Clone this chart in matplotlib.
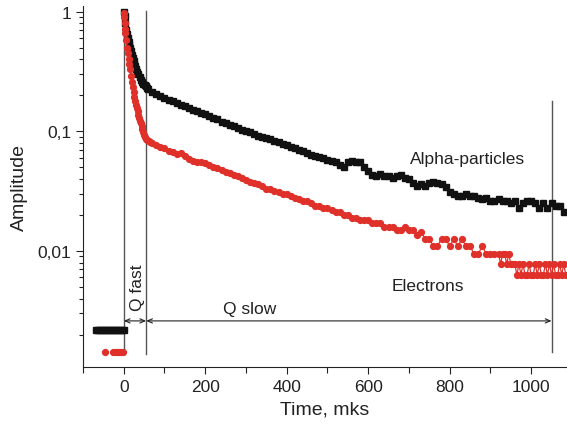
import matplotlib
matplotlib.use("Agg")
import matplotlib.pyplot as plt
from matplotlib.ticker import FixedLocator, NullFormatter, FixedFormatter

plt.rcParams['font.family'] = ['Liberation Sans', 'DejaVu Sans']

# ---------------- data ----------------
# pre-trigger baselines
alpha_pre_t = [-69, -64, -59, -54, -49, -44, -39, -34, -29, -24, -19, -14, -9, -4, 0]
alpha_pre_a = [0.00217] * 15
elec_pre_t = [-47, -27, -22, -17, -12, -7, -3]
elec_pre_a = [0.00142] * 7

# alpha-particles (black)
alpha_t = [0, 2, 4, 6, 8, 10, 12, 14, 16, 18, 20, 22, 24, 26, 28, 30, 33, 36, 39, 42, 45, 48, 51, 54, 57, 60,
           70, 80, 90, 100, 110, 120, 130, 140, 150, 160, 170, 180, 190, 200, 210, 220, 230, 240, 250,
           260, 270, 280, 290, 300, 310, 320, 330, 340, 350, 360, 370, 380, 390, 400, 410, 420, 430,
           440, 450, 460, 470, 480, 490, 500, 510, 520, 530, 540, 550, 560, 570, 580, 590, 600, 610,
           620, 630, 640, 650, 660, 670, 680, 690, 700, 710, 720, 730, 740, 750, 760, 770, 780, 790,
           800, 810, 820, 830, 840, 850, 860, 870, 880, 890, 900, 910, 920, 930, 940, 950, 960, 970,
           980, 990, 1000, 1010, 1020, 1030, 1040, 1050, 1060, 1070, 1080]
alpha_a = [1.0, 0.92, 0.80, 0.71, 0.65, 0.60, 0.56, 0.53, 0.50, 0.47, 0.44, 0.41, 0.39, 0.37, 0.35, 0.335,
           0.315, 0.30, 0.285, 0.27, 0.26, 0.25, 0.245, 0.24, 0.232, 0.226,
           0.215, 0.205, 0.196, 0.19, 0.183, 0.178, 0.172, 0.166, 0.162, 0.156, 0.15, 0.147, 0.142,
           0.139, 0.134, 0.13, 0.127, 0.121, 0.118, 0.114, 0.111, 0.106, 0.103, 0.101, 0.099, 0.095,
           0.092, 0.09, 0.088, 0.086, 0.083, 0.081, 0.078, 0.077, 0.074, 0.072, 0.07, 0.068, 0.066,
           0.064, 0.062, 0.061, 0.060, 0.058, 0.057, 0.055, 0.052, 0.050, 0.055, 0.057, 0.056, 0.055,
           0.050, 0.047, 0.043, 0.042, 0.044, 0.042, 0.042, 0.041, 0.042, 0.043, 0.041, 0.040, 0.037,
           0.035, 0.036, 0.035, 0.037, 0.038, 0.037, 0.036, 0.034, 0.031, 0.030, 0.029, 0.029, 0.030,
           0.029, 0.029, 0.028, 0.027, 0.028, 0.026, 0.026, 0.027, 0.026, 0.026, 0.025, 0.026, 0.023,
           0.025, 0.026, 0.026, 0.025, 0.023, 0.025, 0.023, 0.025, 0.024, 0.024, 0.021]

# electrons (red): fast part, slow part, quantised tail
elec_fast_t = [0, 1, 2, 3, 4, 6, 8, 10, 12, 14, 16, 18, 20, 22, 24, 26, 28, 30, 32, 34, 36, 38, 40, 42,
               44, 46, 48, 50, 52, 55, 58, 61, 64]
elec_fast_a = [0.97, 0.9, 0.8, 0.72, 0.66, 0.58, 0.50, 0.45, 0.40, 0.37, 0.33, 0.29, 0.26, 0.235, 0.215,
               0.195, 0.18, 0.167, 0.158, 0.148, 0.138, 0.13, 0.123, 0.117, 0.111, 0.105, 0.099, 0.094,
               0.090, 0.087, 0.085, 0.083, 0.082]
elec_slow_t = [70, 80, 90, 100, 110, 120, 130, 140, 150, 160, 170,
               180, 190, 200, 210, 220, 230, 240, 250, 260, 270,
               280, 290, 300, 310, 320, 330, 340, 350, 360, 370,
               380, 390, 400, 410, 420, 430, 440, 450, 460, 470,
               480, 490, 500, 510, 520, 530, 540, 550, 560, 570,
               580, 590, 600, 610, 620, 630, 640, 650, 660, 670,
               680, 690, 700, 710, 720, 730, 740, 750, 760, 770,
               780, 790, 800, 810, 820, 830, 840, 850, 860, 870,
               880, 890, 900, 910, 920]
elec_slow_a = [0.080, 0.077, 0.074, 0.072, 0.069, 0.067, 0.065, 0.066, 0.062, 0.059, 0.057,
               0.056, 0.055, 0.054, 0.052, 0.050, 0.049, 0.048, 0.046, 0.045, 0.043,
               0.042, 0.041, 0.039, 0.038, 0.037, 0.036, 0.035, 0.033, 0.033, 0.032,
               0.031, 0.030, 0.030, 0.029, 0.028, 0.027, 0.026, 0.026, 0.025, 0.024,
               0.024, 0.023, 0.023, 0.022, 0.021, 0.021, 0.020, 0.020, 0.019, 0.019,
               0.018, 0.018, 0.018, 0.017, 0.017, 0.017, 0.016, 0.016, 0.016, 0.015,
               0.015, 0.016, 0.015, 0.015, 0.0135, 0.0145, 0.0126, 0.0126, 0.011, 0.011,
               0.0126, 0.0126, 0.011, 0.0126, 0.011, 0.0126, 0.011, 0.011, 0.0094, 0.0094,
               0.011, 0.0094, 0.0094, 0.0094, 0.0094]
elec_tail_t = [925, 930, 935, 940, 945, 950, 955, 960, 965, 970,
               975, 980, 985, 990, 995, 1000, 1005, 1010, 1015, 1020,
               1025, 1030, 1035, 1040, 1045, 1050, 1055, 1060, 1065, 1070,
               1075, 1080, 1085]
elec_tail_a = [0.0078, 0.0094, 0.0094, 0.0078, 0.0094, 0.0078, 0.0078, 0.0078, 0.0063, 0.0078,
               0.0063, 0.0078, 0.0063, 0.0063, 0.0078, 0.0063, 0.0063, 0.0078, 0.0063, 0.0078,
               0.0063, 0.0063, 0.0078, 0.0063, 0.0078, 0.0063, 0.0078, 0.0063, 0.0063, 0.0078,
               0.0063, 0.0078, 0.0063]
elec_t = elec_fast_t + elec_slow_t + elec_tail_t
elec_a = elec_fast_a + elec_slow_a + elec_tail_a

# markers / annotations
boundaries = [0, 55, 1050]
x_ticks = [0, 200, 400, 600, 800, 1000]
x_ticklabels = ['0', '200', '400', '600', '800', '1000']
y_ticks = [1, 0.1, 0.01]
y_ticklabels = ['1', '0,1', '0,01']

# ---------------- figure ----------------
fig = plt.figure(figsize=(5.67, 4.31), dpi=100)
ax = fig.add_axes([83 / 567, (431 - 368) / 431, (567 - 83) / 567, (368 - 7) / 431])

black = '#111111'
red = '#e0302a'

ax.plot(alpha_pre_t, alpha_pre_a, ls='none', marker='s', ms=4.4, color=black)
ax.plot(elec_pre_t, elec_pre_a, ls='none', marker='o', ms=4.2, color=red)
ax.plot(alpha_t, alpha_a, ls='-', lw=1.0, marker='s', ms=4.6, color=black)
ax.plot(elec_t, elec_a, ls='-', lw=0.9, marker='o', ms=4.2, color=red)

ax.set_yscale('log')
ax.set_xlim(-100, 1088)
ax.set_ylim(0.00107, 1.12)

# boundary lines
line_col = '#555555'
ax.plot([boundaries[0]] * 2, [0.00138, 1.02], color=line_col, lw=1.0, zorder=1)
ax.plot([boundaries[1]] * 2, [0.00138, 1.02], color=line_col, lw=1.0, zorder=1)
ax.plot([boundaries[2]] * 2, [0.00142, 0.18], color=line_col, lw=1.0, zorder=1)

arr = dict(arrowstyle='<->,head_length=0.35,head_width=0.15', color='#222222', lw=0.8,
           shrinkA=0, shrinkB=0)
ax.annotate('', xy=(boundaries[0], 0.0026), xytext=(boundaries[1], 0.0026), arrowprops=arr)
ax.annotate('', xy=(boundaries[1], 0.0026), xytext=(boundaries[2], 0.0026), arrowprops=arr)

txt = '#222222'
ax.text(34, 0.0050, 'Q fast', rotation=90, ha='center', va='center', fontsize=12.5, color=txt)
ax.text(310, 0.0033, 'Q slow', ha='center', va='center', fontsize=12.5, color=txt)
ax.text(845, 0.059, 'Alpha-particles', ha='center', va='center', fontsize=12.5, color=txt)
ax.text(747, 0.0051, 'Electrons', ha='center', va='center', fontsize=12.5, color=txt)

# axes styling
for s in ('top', 'right'):
    ax.spines[s].set_visible(False)
ax.spines['left'].set_color('#222222')
ax.spines['bottom'].set_color('#222222')

ax.xaxis.set_major_locator(FixedLocator(x_ticks))
ax.xaxis.set_major_formatter(FixedFormatter(x_ticklabels))
ax.xaxis.set_minor_locator(FixedLocator([-100, 100, 300, 500, 700, 900]))
ax.yaxis.set_major_locator(FixedLocator(y_ticks))
ax.yaxis.set_major_formatter(FixedFormatter(y_ticklabels))
minor_y = [m * 10.0 ** e for e in (-3, -2, -1) for m in range(2, 10)]
ax.yaxis.set_minor_locator(FixedLocator(minor_y))
ax.yaxis.set_minor_formatter(NullFormatter())

ax.tick_params(axis='both', which='major', direction='out', length=5, width=0.8,
               labelsize=12.5, colors=txt)
ax.tick_params(axis='both', which='minor', direction='out', length=3, width=0.8, colors=txt)
ax.tick_params(axis='x', which='minor', length=4)

ax.set_xlabel('Time, mks', fontsize=14, color=txt, labelpad=5)
ax.set_ylabel('Amplitude', fontsize=14, color=txt, labelpad=7)

fig.savefig('out.png', dpi=100)
